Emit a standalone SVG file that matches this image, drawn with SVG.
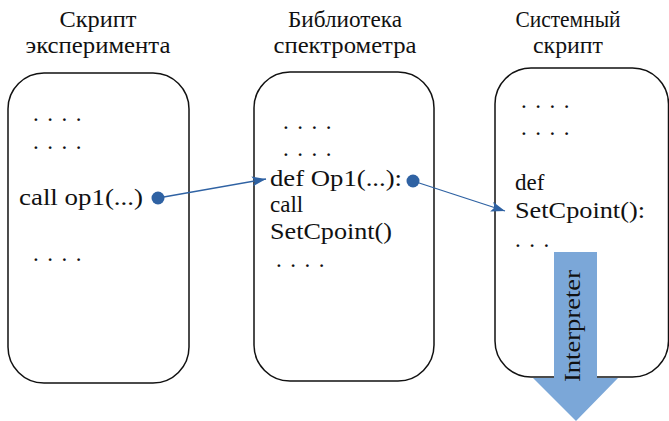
<svg xmlns="http://www.w3.org/2000/svg" width="669" height="421" viewBox="0 0 669 421">
<defs>
<style>
.t{font-family:"Liberation Serif","DejaVu Serif",serif;font-size:23px;fill:#111}
.d{font-family:"Liberation Serif","DejaVu Serif",serif;font-size:23px;fill:#111;letter-spacing:8.5px}
.h{font-family:"Liberation Serif","DejaVu Serif",serif;font-size:24px;fill:#111;text-anchor:middle}
.box{fill:#fff;stroke:#111;stroke-width:1.5}
.con{stroke:#2F62A3;stroke-width:1.3;fill:none}
.dot{fill:#2F62A3}
</style>
<marker id="ah" viewBox="0 0 14 10" refX="14" refY="5" markerWidth="14" markerHeight="10" markerUnits="userSpaceOnUse" orient="auto">
<path d="M0,0 L14,5 L0,10 L3,5 Z" fill="#2F62A3"/>
</marker>
</defs>
<rect width="669" height="421" fill="#fff"/>
<g id="node1">
<text class="h" x="98" y="27" textLength="77" lengthAdjust="spacingAndGlyphs">Скрипт</text>
<text class="h" x="98" y="53" textLength="145" lengthAdjust="spacingAndGlyphs">эксперимента</text>
<rect class="box" x="8" y="73" width="181" height="310" rx="36"/>
<text class="d" x="33" y="121">....</text>
<text class="d" x="33" y="149">....</text>
<text class="t" x="19" y="205" textLength="124" lengthAdjust="spacingAndGlyphs">call op1(...)</text>
<text class="d" x="33" y="261">....</text>
</g>
<g id="node2">
<text class="h" x="345" y="27" textLength="114" lengthAdjust="spacingAndGlyphs">Библиотека</text>
<text class="h" x="345" y="53" textLength="143" lengthAdjust="spacingAndGlyphs">спектрометра</text>
<rect class="box" x="254" y="72" width="180" height="309" rx="36"/>
<text class="d" x="283" y="129">....</text>
<text class="d" x="283" y="156">....</text>
<text class="t" x="270" y="186" textLength="132" lengthAdjust="spacingAndGlyphs">def Op1(...):</text>
<text class="t" x="270" y="212">call</text>
<text class="t" x="270" y="239" textLength="122" lengthAdjust="spacingAndGlyphs">SetCpoint()</text>
<text class="d" x="276" y="267">....</text>
</g>
<g id="node3">
<text class="h" x="568" y="27" textLength="105" lengthAdjust="spacingAndGlyphs">Системный</text>
<text class="h" x="568" y="53" textLength="70" lengthAdjust="spacingAndGlyphs">скрипт</text>
<rect class="box" x="495" y="68" width="173.5" height="309" rx="36"/>
<text class="d" x="521" y="108">....</text>
<text class="d" x="521" y="135">....</text>
<text class="t" x="515" y="190">def</text>
<text class="t" x="515" y="218" textLength="130" lengthAdjust="spacingAndGlyphs">SetCpoint():</text>
<text class="d" x="515" y="247">...</text>
</g>
<g id="interpreter">
<path d="M554,252 H597 V378 H618 L576,421 L533,378 H554 Z" fill="#7BA7D8"/>
<text class="t" transform="translate(580,326) rotate(-90)" text-anchor="middle" textLength="112" lengthAdjust="spacingAndGlyphs">Interpreter</text>
</g>
<g id="connectors">
<circle class="dot" cx="158" cy="198" r="6.5"/>
<line class="con" x1="158" y1="198" x2="266" y2="179" marker-end="url(#ah)"/>
<circle class="dot" cx="413" cy="181" r="6.5"/>
<line class="con" x1="413" y1="181" x2="505" y2="211" marker-end="url(#ah)"/>
</g>
</svg>
